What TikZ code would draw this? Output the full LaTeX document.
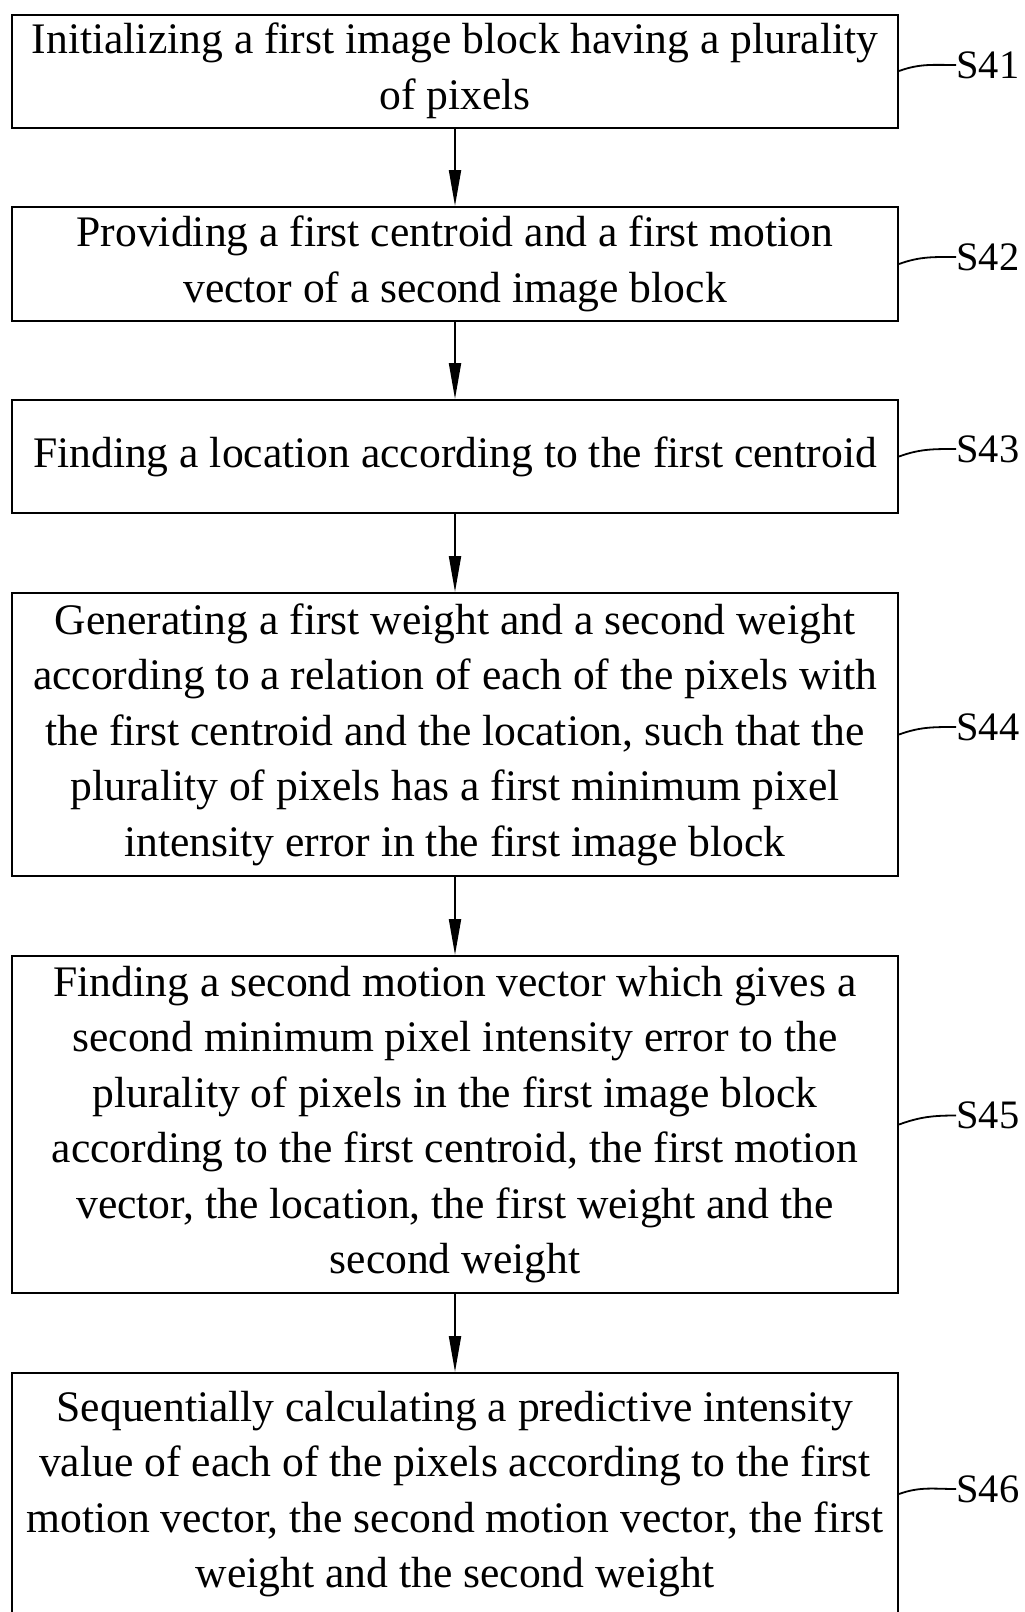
\documentclass[tikz,border=0pt]{standalone}
\usepackage{fontspec}
\setmainfont{Liberation Serif}
\usetikzlibrary{arrows.meta}

\begin{document}
\begin{tikzpicture}[
        x=0.5pt,
        y=-0.5pt,
        step-box/.style={
            draw,
            line width=1pt,
            minimum width=443pt,
            inner sep=0pt,
            align=center,
            font=\fontsize{21.8}{27.75}\selectfont,
        },
        step-label/.style={
            anchor=west,
            inner sep=0pt,
            font=\fontsize{20.2}{24}\selectfont,
        },
        link-next/.style={
            line width=1pt,
            -{Triangle[length=18pt, width=6pt]},
        },
        link-label/.style={
            line width=0.9pt,
        },
    ]
    \useasboundingbox (0,0) rectangle (1024,1612);

    % Steps.
    \node[step-box, minimum height=56.5pt] (s41) at (455,71)
        {Initializing a first image block having a plurality\\of pixels};
    \node[step-box, minimum height=57pt] (s42) at (455,264)
        {Providing a first centroid and a first motion\\vector of a second image block};
    \node[step-box, minimum height=56.5pt] (s43) at (455,456.5)
        {Finding a location according to the first centroid};
    \node[step-box, minimum height=141.5pt] (s44) at (455,734.5)
        {Generating a first weight and a second weight\\according to a relation of each of the pixels with\\the first centroid and the location, such that the\\plurality of pixels has a first minimum pixel\\intensity error in the first image block};
    \node[step-box, minimum height=168.5pt] (s45) at (455,1124.5)
        {Finding a second motion vector which gives a\\second minimum pixel intensity error to the\\plurality of pixels in the first image block\\according to the first centroid, the first motion\\vector, the location, the first weight and the\\second weight};
    \node[step-box, minimum height=121pt] (s46) at (455,1494)
        {Sequentially calculating a predictive intensity\\value of each of the pixels according to the first\\motion vector, the second motion vector, the first\\weight and the second weight};

    % Step labels.
    \foreach \n/\y in {41/65, 42/257, 43/449, 44/727, 45/1115.5, 46/1489}
    \node[step-label] (l\n) at (956,\y) {S\n};

    \foreach \n in {41, ..., 46}
    \draw[link-label] (s\n.east) to[out=20, in=180] (l\n.west);

    % Flow between steps.
    \foreach \a/\b in {41/42, 42/43, 43/44, 44/45, 45/46}
    \draw[link-next] (s\a.south) -- (s\b.north);
\end{tikzpicture}
\end{document}
